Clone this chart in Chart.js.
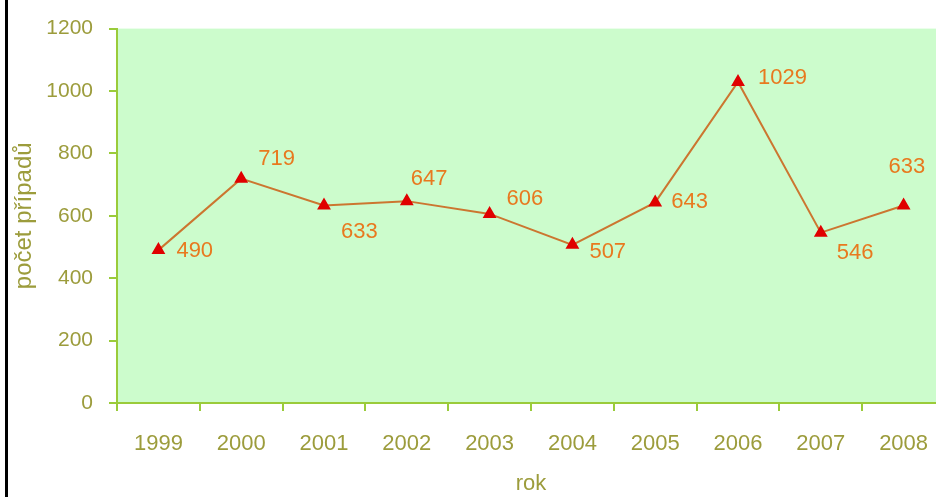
<!DOCTYPE html>
<html>
<head>
<meta charset="utf-8">
<script src="https://cdn.jsdelivr.net/npm/chart.js@4"></script>
<style>
    html, body { margin: 0; padding: 0; background: #fff; overflow: hidden; }
    #wrap { position: relative; width: 953px; height: 497px; }
    #edge { position: absolute; left: 5px; top: 0; width: 3px; height: 497px; background: #000; }
</style>
</head>
<body>
<div id="wrap">
    <canvas id="chart" width="953" height="497"></canvas>
    <div id="edge"></div>
</div>
<script>
// Data
const years = ['1999', '2000', '2001', '2002', '2003', '2004', '2005', '2006', '2007', '2008'];
const cases = [490, 719, 633, 647, 606, 507, 643, 1029, 546, 633];
const yTicks = [0, 200, 400, 600, 800, 1000, 1200];

const axisGreen = '#9acb3a';
const textOlive = '#9c9c3c';
const fontFamily = '"Liberation Sans", Arial, sans-serif';

// Value labels next to each point
const valueLabels = {
    id: 'valueLabels',
    afterDatasetsDraw(chart, args, opts) {
        const ctx = chart.ctx;
        const meta = chart.getDatasetMeta(0);
        ctx.save();
        ctx.font = '22px ' + fontFamily;
        ctx.fillStyle = opts.color;
        ctx.textBaseline = 'middle';
        ctx.textAlign = 'left';
        meta.data.forEach((pt, i) => {
            const off = opts.offsets[i] || [16, 0];
            ctx.fillText(String(cases[i]), pt.x + off[0], pt.y + off[1]);
        });
        ctx.restore();
    }
};

const ctx = document.getElementById('chart').getContext('2d');
new Chart(ctx, {
    type: 'line',
    data: {
        labels: years,
        datasets: [{
            data: cases,
            borderColor: '#cc7630',
            borderWidth: 2,
            pointStyle: 'triangle',
            pointRadius: 6,
            pointBackgroundColor: '#e00000',
            pointBorderColor: '#e00000',
            tension: 0
        }]
    },
    options: {
        responsive: false,
        animation: false,
        layout: { padding: { top: 24, left: 0, right: 0, bottom: 0 } },
        plugins: {
            legend: { display: false },
            tooltip: { enabled: false },
            valueLabels: {
                color: '#e8791f',
                offsets: [[18, 1], [17, -20], [17, 26], [4, -22], [17, -15], [17, 7], [16, 0], [20, -4], [16, 20], [-15, -39]]
            }
        },
        scales: {
            x: {
                offset: true,
                afterFit: s => { s.height = 94; },
                grid: { offset: true, drawOnChartArea: false, drawTicks: true, tickLength: 8, tickColor: axisGreen, lineWidth: 2 },
                border: { color: axisGreen, width: 2 },
                ticks: { color: textOlive, padding: 20, maxRotation: 0, font: { size: 22, family: fontFamily } },
                title: { display: true, text: 'rok', color: textOlive, padding: { top: 12, bottom: 0 }, font: { size: 22, family: fontFamily } }
            },
            y: {
                min: 0,
                max: 1200,
                afterFit: s => { s.width = 117; },
                afterBuildTicks: s => { s.ticks = yTicks.map(v => ({ value: v })); },
                grid: { drawOnChartArea: false, drawTicks: true, tickLength: 8, tickColor: axisGreen, lineWidth: 2 },
                border: { color: axisGreen, width: 2 },
                ticks: { color: textOlive, padding: 16, callback: v => String(v), font: { size: 21, family: fontFamily } },
                title: { display: true, text: 'počet případů', color: textOlive, padding: { top: 10, bottom: 0 }, font: { size: 24, family: fontFamily } }
            }
        }
    },
    plugins: [
        valueLabels,
        {
            id: 'plotBg',
            beforeDraw(chart) {
                const a = chart.chartArea;
                chart.ctx.save();
                chart.ctx.fillStyle = '#ccfccc';
                chart.ctx.fillRect(a.left, a.top, a.right - a.left, a.bottom - a.top);
                chart.ctx.restore();
            }
        }
    ]
});
</script>
</body>
</html>
